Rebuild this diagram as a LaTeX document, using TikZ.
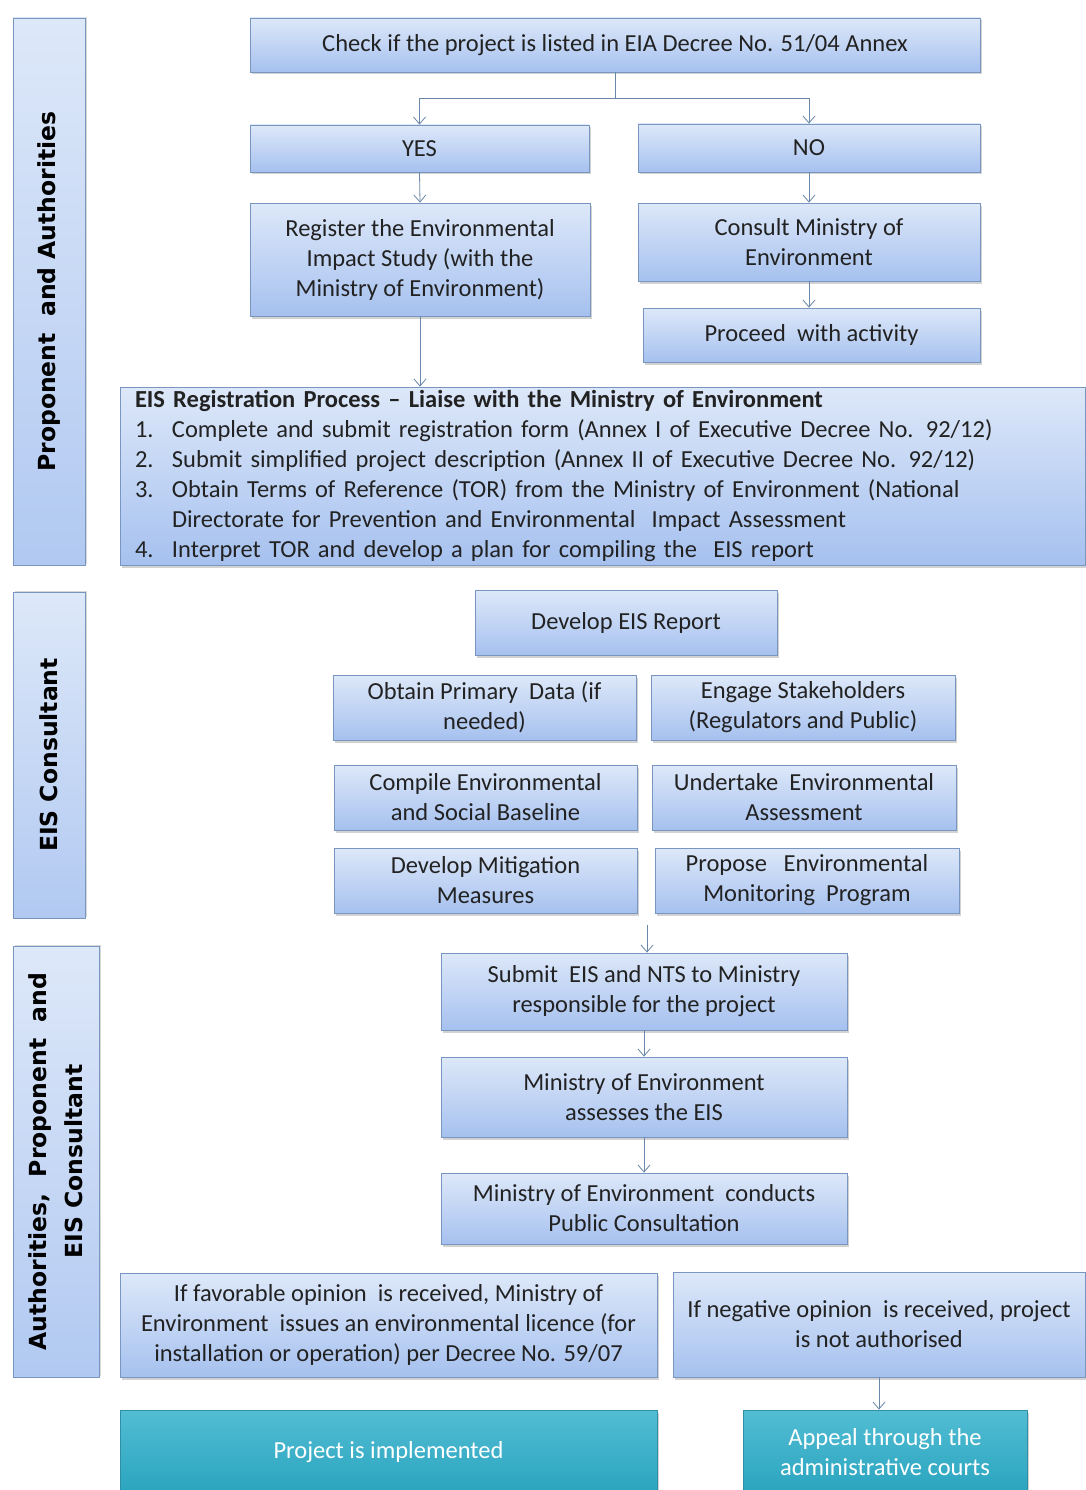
\documentclass[tikz,border=0pt]{standalone}
\usepackage{fontspec}
\setmainfont{Carlito}
\newfontfamily\sidefont{DejaVu Sans}
\usetikzlibrary{arrows.meta,shadows,calc}
\definecolor{btop}{HTML}{DDE8F9}
\definecolor{bbot}{HTML}{A6C1EF}
\definecolor{bline}{HTML}{7896C0}
\definecolor{txt}{HTML}{222222}
\definecolor{arrc}{HTML}{6A86A8}
\definecolor{ttop}{HTML}{52BDD3}
\definecolor{tbot}{HTML}{2AA4BF}
\definecolor{tline}{HTML}{2E8FA6}
\tikzset{
  bbox/.style={draw=bline, line width=0.8pt, top color=btop, bottom color=bbot,
    drop shadow={opacity=0.35, shadow xshift=1.5pt, shadow yshift=-2.5pt},
    font=\fontsize{24.5}{30}\selectfont, text=txt, align=center, inner sep=2pt},
  tbox/.style={draw=tline, line width=0.8pt, top color=ttop, bottom color=tbot,
    drop shadow={opacity=0.35, shadow xshift=1.5pt, shadow yshift=-2.5pt},
    font=\fontsize{24.5}{30}\selectfont, text=white, align=center, inner sep=2pt},
  sidebox/.style={draw=bline, line width=0.8pt, top color=btop, bottom color=bbot!80!btop,
    drop shadow={opacity=0.3, shadow xshift=2pt, shadow yshift=1pt},
    font=\sidefont\bfseries\fontsize{23.5}{36}\selectfont, text=black, align=center, rotate=90, inner sep=0pt},
  conn/.style={draw=arrc, line width=0.8pt},
  arr/.style={draw=arrc, line width=0.8pt, -{Straight Barb[length=7pt,width=12pt]}}
}
\begin{document}
\begin{tikzpicture}[x=1pt,y=-1pt]
\fill[white] (0,0) rectangle (1085,1490);
\useasboundingbox (0,0) rectangle (1085,1490);

% side labels
\node[sidebox, minimum width=547pt, minimum height=72pt] (s1) at (49,291.5) {Proponent \ and Authorities};
\node[sidebox, minimum width=326pt, minimum height=72pt] (s2) at (49,755) {EIS Consultant};
\node[sidebox, minimum width=431pt, minimum height=86pt] (s3) at (56,1161.5) {Authorities, \ Proponent \ and\\EIS Consultant};

% top section
\node[bbox, minimum width=730pt, minimum height=54pt] (check) at (615,45) {Check if the project is listed in EIA Decree No. 51/04 Annex};
\node[bbox, minimum width=339pt, minimum height=47pt] (yes) at (419.5,148.5) {YES};
\node[bbox, minimum width=342pt, minimum height=48pt] (no) at (809,148) {NO};
\node[bbox, minimum width=340pt, minimum height=113pt] (reg) at (420,259.5) {Register the Environmental\\Impact Study (with the\\Ministry of Environment)};
\node[bbox, minimum width=342pt, minimum height=78pt] (consult) at (809,242) {Consult Ministry of\\Environment};
\node[bbox, minimum width=337pt, minimum height=54pt] (proceed) at (811.5,335) {Proceed \ with activity};
\node[bbox, minimum width=965pt, minimum height=178pt, text width=935pt, align=left, inner sep=0pt] (eisreg) at (602.5,476)
{\textbf{EIS Registration Process -- Liaise with the Ministry of Environment}\\
\makebox[37pt][l]{1.}Complete and submit registration form (Annex I of Executive Decree No. 92/12)\\
\makebox[37pt][l]{2.}Submit simplified project description (Annex II of Executive Decree No. 92/12)\\
\makebox[37pt][l]{3.}Obtain Terms of Reference (TOR) from the Ministry of Environment (National\\
\hspace*{37pt}Directorate for Prevention and Environmental \ Impact Assessment\\
\makebox[37pt][l]{4.}Interpret TOR and develop a plan for compiling the \ EIS report};

% consultant section
\node[bbox, minimum width=302pt, minimum height=65pt] (dev) at (626,622.5) {Develop EIS Report};
\node[bbox, minimum width=303pt, minimum height=65pt] (obtain) at (484.5,707.5) {Obtain Primary \ Data (if\\needed)};
\node[bbox, minimum width=304pt, minimum height=65pt] (engage) at (803,707.5) {Engage Stakeholders\\(Regulators and Public)};
\node[bbox, minimum width=303pt, minimum height=65pt] (compile) at (485.5,797.5) {Compile Environmental\\and Social Baseline};
\node[bbox, minimum width=304pt, minimum height=65pt] (undertake) at (804,797.5) {Undertake \ Environmental\\Assessment};
\node[bbox, minimum width=303pt, minimum height=65pt] (mitig) at (485.5,880.5) {Develop Mitigation\\Measures};
\node[bbox, minimum width=304pt, minimum height=65pt] (propose) at (807,880.5) {Propose \ \ Environmental\\Monitoring \ Program};

% authorities section
\node[bbox, minimum width=406pt, minimum height=77pt] (submit) at (644,991.5) {Submit \ EIS and NTS to Ministry\\responsible for the project};
\node[bbox, minimum width=406pt, minimum height=80pt] (assess) at (644,1097) {Ministry of Environment\\assesses the EIS};
\node[bbox, minimum width=406pt, minimum height=71pt] (conduct) at (644,1208.5) {Ministry of Environment \ conducts\\Public Consultation};
\node[bbox, minimum width=537pt, minimum height=104pt] (favor) at (388.5,1325) {If favorable opinion \ is received, Ministry of\\Environment \ issues an environmental licence (for\\installation or operation) per Decree No. 59/07};
\node[bbox, minimum width=412pt, minimum height=105pt] (neg) at (879,1324.5) {If negative opinion \ is received, project\\is not authorised};
\node[tbox, minimum width=537pt, minimum height=84pt] (impl) at (388.5,1452) {Project is implemented};
\node[tbox, minimum width=284pt, minimum height=84pt] (appeal) at (885,1452) {Appeal through the\\administrative courts};

% connectors
\coordinate (sp) at (615,98);
\draw[conn] (check.south) -- (sp);
\draw[arr] (sp) -| (yes.north);
\draw[arr] (sp) -| (no.north);
\draw[arr] (yes.south) -- (reg.north);
\draw[arr] (no.south) -- (no.south |- consult.north);
\draw[arr] (consult.south) -- (consult.south |- proceed.north);
\draw[arr] (reg.south) -- (reg.south |- eisreg.north);
\coordinate (sa) at (647,925);
\draw[arr] (sa) -- (sa |- submit.north);
\draw[arr] (submit.south) -- (assess.north);
\draw[arr] (assess.south) -- (conduct.north);
\draw[arr] (neg.south) -- (neg.south |- appeal.north);
\end{tikzpicture}
\end{document}
